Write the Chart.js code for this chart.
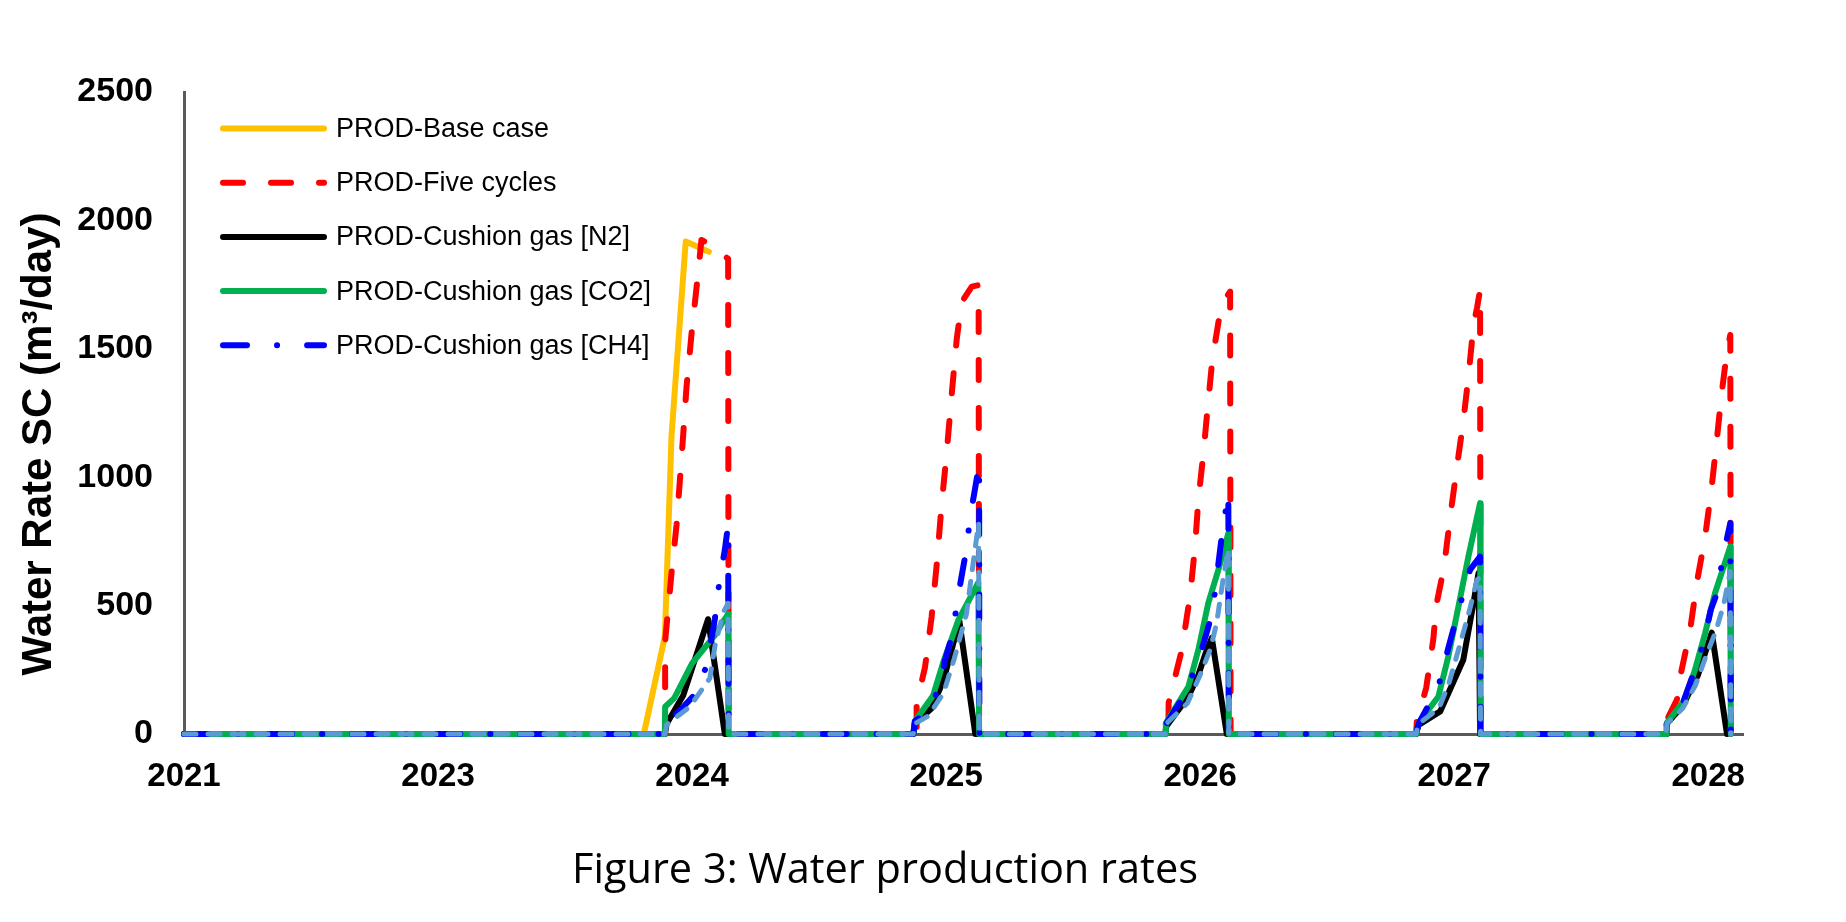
<!DOCTYPE html>
<html>
<head>
<meta charset="utf-8">
<title>Water production rates</title>
<script src="https://cdn.jsdelivr.net/npm/chart.js@4.4.1/dist/chart.umd.min.js"></script>
<style>
  html, body { margin: 0; padding: 0; background: #fff; }
  canvas { display: block; }
</style>
</head>
<body>
<canvas id="chart" width="1846" height="922"></canvas>
<script>
// x positions are in label slots of the category axis (0 = "2021", 1 = "2023", ...)
const tickLabels = ['2021', '2023', '2024', '2025', '2026', '2027', '2028'];
const yTitle = 'Water Rate SC (m\u00B3/day)';
const caption = 'Figure 3: Water production rates';

const baseX = [0, 1.81, 1.893, 1.919, 1.975, 1.991, 2.066];
const baseY = [0, 0, 380, 1160, 1918, 1911, 1878];

const fiveX = [0,
  1.894, 1.894, 1.919, 1.939, 1.959, 1.978, 1.998, 2.018, 2.037, 2.077, 2.142, 2.144,
  2.884, 2.884, 2.917, 2.943, 2.963, 2.982, 3.002, 3.022, 3.042, 3.061, 3.101, 3.128, 3.130,
  3.875, 3.876, 3.928, 3.960, 3.980, 3.993, 4.013, 4.030, 4.048, 4.078, 4.105, 4.118, 4.120,
  4.850, 4.853, 4.890, 4.918, 4.930, 4.960, 4.985, 5.010, 5.036, 5.057, 5.076, 5.090, 5.102, 5.104,
  5.835, 5.840, 5.877, 5.890, 5.929, 5.955, 5.988, 6.014, 6.034, 6.053, 6.073, 6.087, 6.089];
const fiveY = [0,
  0, 362, 625, 815, 1079, 1349, 1559, 1742, 1924, 1904, 1850, 0,
  0, 118, 260, 456, 659, 889, 1092, 1322, 1539, 1681, 1742, 1748, 0,
  0, 121, 328, 536, 730, 912, 1094, 1275, 1457, 1639, 1703, 1723, 0,
  0, 49, 180, 370, 503, 650, 850, 1035, 1217, 1400, 1590, 1660, 1729, 0,
  0, 60, 134, 224, 406, 588, 769, 964, 1146, 1327, 1483, 1554, 0];

const n2X = [0,
  1.893, 1.900, 1.965, 2.063, 2.129,
  2.871, 2.877, 2.943, 2.990, 3.052, 3.115,
  3.862, 3.867, 3.954, 3.993, 4.020, 4.046, 4.105,
  4.850, 4.860, 4.945, 5.036, 5.076, 5.096, 5.102,
  5.835, 5.837, 5.900, 5.960, 6.014, 6.074];
const n2Y = [0,
  0, 40, 150, 447, 0,
  0, 40, 100, 210, 441, 0,
  0, 30, 146, 230, 310, 374, 0,
  0, 35, 88, 289, 510, 627, 0,
  0, 40, 110, 230, 395, 0];

const co2X = [0,
  1.893, 1.894, 1.930, 2.000, 2.090, 2.123, 2.142, 2.144,
  2.871, 2.877, 2.949, 2.989, 3.048, 3.127, 3.130,
  3.862, 3.865, 3.954, 3.993, 4.032, 4.072, 4.111, 4.113,
  4.850, 4.860, 4.938, 4.977, 5.017, 5.056, 5.102, 5.104,
  5.835, 5.837, 5.909, 5.948, 5.988, 6.027, 6.087, 6.089];
const co2Y = [0,
  0, 106, 140, 275, 385, 439, 467, 0,
  0, 50, 150, 280, 443, 590, 0,
  0, 43, 185, 328, 510, 640, 782, 0,
  0, 43, 146, 302, 497, 691, 899, 0,
  0, 43, 134, 250, 393, 549, 730, 0];

const ch4X = [0,
  1.893, 1.900, 1.972, 2.018, 2.059, 2.090, 2.109, 2.129, 2.142, 2.144,
  2.871, 2.877, 2.930, 2.975, 2.995, 3.028, 3.042, 3.081, 3.094, 3.114, 3.130, 3.131,
  3.862, 3.867, 3.934, 3.993, 4.048, 4.065, 4.085, 4.111, 4.113,
  4.850, 4.860, 4.938, 4.977, 5.023, 5.063, 5.102, 5.104,
  5.835, 5.837, 5.900, 5.940, 5.982, 6.010, 6.040, 6.054, 6.087, 6.089];
const ch4Y = [0,
  0, 40, 113, 161, 272, 450, 606, 717, 815, 0,
  0, 50, 90, 186, 286, 398, 509, 725, 842, 955, 1052, 0,
  0, 40, 146, 283, 471, 607, 769, 938, 0,
  0, 40, 185, 335, 503, 640, 691, 0,
  0, 45, 120, 230, 354, 484, 562, 672, 821, 0];

// sixth series drawn in the plot but left out of the legend
const extraX = [0,
  1.893, 1.900, 1.991, 2.070, 2.090, 2.123, 2.142, 2.144,
  2.871, 2.877, 2.930, 2.990, 3.030, 3.080, 3.101, 3.128, 3.130,
  3.862, 3.867, 3.950, 4.000, 4.040, 4.065, 4.090, 4.111, 4.113,
  4.850, 4.860, 4.940, 4.980, 5.017, 5.060, 5.090, 5.102, 5.104,
  5.835, 5.837, 5.900, 5.950, 5.990, 6.030, 6.060, 6.087, 6.089];
const extraY = [0,
  0, 36, 106, 217, 342, 474, 509, 0,
  0, 40, 70, 160, 286, 467, 625, 821, 0,
  0, 40, 120, 230, 330, 432, 600, 720, 0,
  0, 40, 100, 200, 328, 480, 600, 610, 0,
  0, 40, 100, 190, 300, 400, 500, 633, 0];

const ARIAL = '"Liberation Sans", Arial, sans-serif';
const LEGEND_COUNT = 5;

const pts = (xs, ys) => xs.map((x, i) => ({ x: x, y: ys[i] }));

function series(label, xs, ys, color, dash, order, width) {
  return {
    label: label,
    data: pts(xs, ys),
    borderColor: color,
    backgroundColor: color,
    borderWidth: width || 6,
    borderDash: dash || [],
    borderCapStyle: 'round',
    borderJoinStyle: 'round',
    pointRadius: 0,
    pointHoverRadius: 0,
    tension: 0,
    fill: false,
    clip: false,
    order: order
  };
}

// legend box inside the plot, y title and caption drawn by hand
const extrasPlugin = {
  id: 'extras',
  afterDraw(chart) {
    const { ctx, chartArea } = chart;
    const sets = chart.data.datasets.slice(0, LEGEND_COUNT);

    ctx.save();
    ctx.font = '27px ' + ARIAL;
    ctx.textAlign = 'left';
    ctx.textBaseline = 'middle';
    sets.forEach((ds, i) => {
      const y = chartArea.top + 36.5 + i * 54.2;
      const x = chartArea.left + 39;
      ctx.beginPath();
      ctx.strokeStyle = ds.borderColor;
      ctx.lineWidth = ds.borderWidth;
      ctx.lineCap = 'round';
      ctx.setLineDash(ds.borderDash);
      ctx.moveTo(x, y);
      ctx.lineTo(x + 101, y);
      ctx.stroke();
      ctx.setLineDash([]);
      ctx.fillStyle = '#000';
      ctx.fillText(ds.label, x + 113, y + 1);
    });
    ctx.restore();

    ctx.save();
    ctx.translate(chartArea.left - 145, (chartArea.top + chartArea.bottom) / 2 + 31);
    ctx.rotate(-Math.PI / 2);
    ctx.font = 'bold 42px ' + ARIAL;
    ctx.fillStyle = '#000';
    ctx.textAlign = 'center';
    ctx.textBaseline = 'middle';
    ctx.fillText(yTitle, 0, 0);
    ctx.restore();

    ctx.save();
    ctx.font = '41.5px "Open Sans", sans-serif';
    ctx.fillStyle = '#000';
    ctx.textAlign = 'center';
    ctx.textBaseline = 'middle';
    ctx.fillText(caption, chartArea.left + 701, chartArea.bottom + 137);
    ctx.restore();
  }
};

const ctx = document.getElementById('chart').getContext('2d');
new Chart(ctx, {
  type: 'line',
  data: {
    datasets: [
      series('PROD-Base case', baseX, baseY, '#FFC000', [], 6),
      series('PROD-Five cycles', fiveX, fiveY, '#FF0000', [20, 28], 5),
      series('PROD-Cushion gas [N2]', n2X, n2Y, '#000000', [], 4),
      series('PROD-Cushion gas [CO2]', co2X, co2Y, '#00B050', [], 3),
      series('PROD-Cushion gas [CH4]', ch4X, ch4Y, '#0000FF', [24, 30, 0.1, 30], 2),
      series('PROD-extra', extraX, extraY, '#5B9BD5', [12, 12], 1, 5)
    ]
  },
  options: {
    responsive: false,
    animation: false,
    events: [],
    layout: { padding: { top: 92, right: 103, bottom: 0, left: 0 } },
    scales: {
      x: {
        type: 'linear',
        min: 0,
        max: 6.137,
        grid: { display: false, drawTicks: false },
        border: { display: true, color: '#595959', width: 3 },
        afterBuildTicks: (scale) => {
          scale.ticks = tickLabels.map((t, i) => ({ value: i }));
        },
        afterFit: (scale) => { scale.height = 188; },
        ticks: {
          autoSkip: false,
          maxRotation: 0,
          padding: 23,
          color: '#000',
          font: { family: ARIAL, size: 33, weight: 'bold' },
          callback: (v) => tickLabels[v]
        }
      },
      y: {
        min: 0,
        max: 2500,
        grid: { display: false, drawTicks: false },
        border: { display: true, color: '#595959', width: 3 },
        afterFit: (scale) => { scale.width = 184; },
        ticks: {
          stepSize: 500,
          padding: 31,
          color: '#000',
          font: { family: ARIAL, size: 34, weight: 'bold' },
          callback: (v) => String(v)
        }
      }
    },
    plugins: {
      tooltip: { enabled: false },
      legend: { display: false },
      title: { display: false }
    }
  },
  plugins: [extrasPlugin]
});
</script>
</body>
</html>
